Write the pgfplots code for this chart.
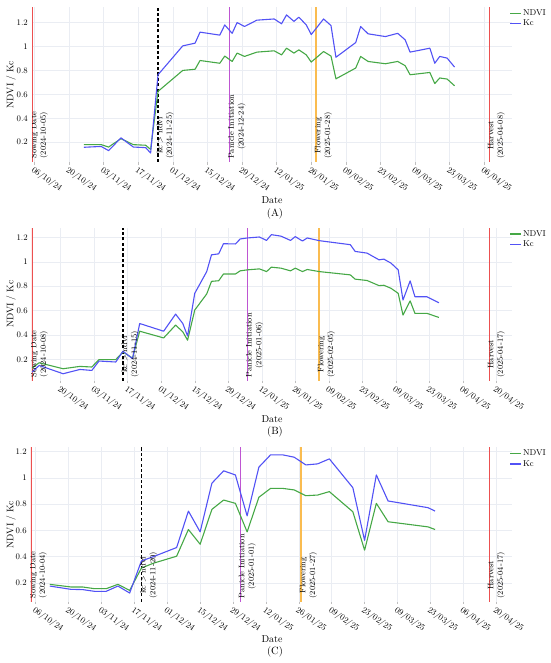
\documentclass[border=0pt]{standalone}
\usepackage{pgfplots}
\pgfplotsset{compat=1.18}
\usepackage{pgfplotstable}
\definecolor{ndvic}{RGB}{70,168,70}
\definecolor{kcc}{RGB}{82,82,245}
\definecolor{sowc}{RGB}{236,80,80}
\definecolor{panc}{RGB}{190,85,210}
\definecolor{flowc}{RGB}{250,188,80}
\definecolor{gridc}{RGB}{234,237,243}

\pgfplotstableread{
day ndvi kc
20 0.180 0.158
27 0.180 0.165
30 0.160 0.130
35 0.230 0.237
40 0.180 0.160
45 0.175 0.155
47 0.140 0.110
50 0.625 0.764
60 0.800 1.005
65 0.810 1.028
67 0.883 1.120
75 0.860 1.095
77 0.920 1.180
80 0.875 1.110
82 0.945 1.200
85 0.917 1.167
90 0.953 1.220
97 0.964 1.230
100 0.930 1.190
102 0.986 1.264
105 0.945 1.210
107 0.972 1.245
110 0.930 1.180
112 0.870 1.100
117 0.958 1.230
120 0.920 1.175
122 0.730 0.910
130 0.820 1.033
132 0.917 1.167
135 0.875 1.106
142 0.856 1.083
147 0.875 1.110
150 0.840 1.056
152 0.764 0.953
160 0.783 0.986
162 0.690 0.860
164 0.737 0.917
167 0.728 0.903
170 0.672 0.828
}\dataA

\pgfplotstableread{
day ndvi kc
2 0.130 0.097
5 0.174 0.152
15 0.125 0.084
22 0.144 0.119
27 0.139 0.111
30 0.200 0.188
37 0.200 0.180
40 0.262 0.268
44 0.212 0.207
47 0.432 0.495
57 0.377 0.432
62 0.482 0.572
65 0.427 0.495
67 0.358 0.393
70 0.605 0.742
75 0.737 0.920
77 0.840 1.057
80 0.845 1.065
82 0.900 1.148
87 0.900 1.146
89 0.926 1.187
92 0.934 1.195
97 0.942 1.203
100 0.920 1.175
102 0.956 1.222
106 0.948 1.210
110 0.926 1.175
112 0.948 1.206
115 0.920 1.170
117 0.937 1.195
122 0.920 1.173
135 0.893 1.140
137 0.858 1.085
142 0.847 1.071
147 0.805 1.016
149 0.808 1.022
152 0.783 0.989
155 0.742 0.934
157 0.564 0.687
160 0.680 0.844
162 0.578 0.714
167 0.578 0.714
172 0.545 0.665
}\dataB

\pgfplotstableread{
day ndvi kc
6 0.190 0.177
15 0.170 0.152
20 0.170 0.150
25 0.157 0.137
30 0.157 0.137
35 0.190 0.177
40 0.144 0.124
45 0.314 0.368
50 0.350 0.400
60 0.404 0.470
65 0.607 0.747
70 0.495 0.589
75 0.760 0.959
80 0.831 1.053
85 0.806 1.022
90 0.589 0.711
95 0.852 1.081
100 0.920 1.175
105 0.920 1.175
110 0.908 1.157
115 0.864 1.098
120 0.869 1.106
125 0.895 1.144
135 0.742 0.925
140 0.450 0.524
145 0.806 1.022
150 0.666 0.824
167 0.627 0.773
170 0.607 0.747
}\dataC

\newcommand{\tfont}{\fontsize{8.5}{10}\selectfont}
\newcommand{\efont}{\fontsize{8}{9.6}\selectfont}

\tikzset{
  evlab/.style={rotate=90, anchor=north west, align=center, font=\efont, inner sep=0.5pt, xshift=2.6pt, yshift=2pt},
  sowline/.style={sowc, line width=1.2pt},
  kcdash/.style={black, line width=1.1pt, dash pattern=on 3.2pt off 2.2pt},
  panline/.style={panc, line width=1.1pt},
  flowline/.style={flowc, line width=1.8pt},
}
\pgfplotsset{
  panel/.style={
    scale only axis,
    axis line style={draw=none},
    grid=major,
    grid style={gridc, line width=0.5pt},
    xtick pos=left, ytick pos=left,
    tick align=outside,
    major tick length=2.5pt,
    xtick style={black!25, line width=0.5pt},
    ytick style={draw=none},
    ytick={0.2,0.4,0.6,0.8,1,1.2},
    yticklabels={0.2,0.4,0.6,0.8,1,1.2},
    xticklabel style={rotate=-35, anchor=north west, font=\tfont, inner sep=1pt},
    yticklabel style={font=\tfont, inner sep=1.5pt},
    legend style={at={(0.992,1)}, anchor=north west, draw=none, fill=none,
      font=\tfont, inner sep=1pt, row sep=0pt, nodes={inner sep=1.5pt}},
    legend cell align=left,
    legend image code/.code={\draw[#1, line width=1.3pt] (0pt,0pt) -- (11pt,0pt);},
  },
  ndviline/.style={ndvic, line width=1.1pt, line join=round},
  kcline/.style={kcc, line width=1.1pt, line join=round},
}

\begin{document}
\begin{tikzpicture}
\path[use as bounding box] (0,0) rectangle (550pt,-663pt);

% ---------------- Panel A ----------------
\begin{axis}[panel,
  at={(32pt,-162pt)}, anchor=south west,
  width=480pt, height=155pt,
  xmin=-1, xmax=193.25, ymin=0.035, ymax=1.33,
  xtick={0,14,28,42,56,70,84,98,112,126,140,154,168,182},
  xticklabels={06/10/24,20/10/24,03/11/24,17/11/24,01/12/24,15/12/24,29/12/24,12/01/25,26/01/25,09/02/25,23/02/25,09/03/25,23/03/25,06/04/25},
]
\addplot[sowline, forget plot] coordinates {(-1,0.035) (-1,1.33)};
\addplot[kcdash, forget plot] coordinates {(50,0.035) (50,1.33)};
\addplot[panline, forget plot] coordinates {(79,0.035) (79,1.33)};
\addplot[flowline, forget plot] coordinates {(114,0.035) (114,1.33)};
\addplot[sowline, forget plot] coordinates {(184,0.035) (184,1.33)};
\addplot[ndviline] table[x=day, y=ndvi] {\dataA};
\addlegendentry{NDVI}
\addplot[kcline] table[x=day, y=kc] {\dataA};
\addlegendentry{Kc}
\node[evlab] at (axis cs:-1,0.035) {Sowing Date\\(2024-10-05)};
\node[evlab] at (axis cs:50,0.035) {kc $>$ ndvi\\(2024-11-25)};
\node[evlab] at (axis cs:79,0.035) {Panicle Initiation\\(2024-12-24)};
\node[evlab] at (axis cs:114,0.035) {Flowering\\(2025-01-28)};
\node[evlab] at (axis cs:184,0.035) {Harvest\\(2025-04-08)};
\end{axis}

% ---------------- Panel B ----------------
\begin{axis}[panel,
  at={(32pt,-380.7pt)}, anchor=south west,
  width=480pt, height=153pt,
  xmin=2, xmax=202.55, ymin=0.027, ymax=1.279,
  xtick={14,28,42,56,70,84,98,112,126,140,154,168,182,196},
  xticklabels={20/10/24,03/11/24,17/11/24,01/12/24,15/12/24,29/12/24,12/01/25,26/01/25,09/02/25,23/02/25,09/03/25,23/03/25,06/04/25,20/04/25},
]
\addplot[sowline, forget plot] coordinates {(2,0.027) (2,1.279)};
\addplot[kcdash, forget plot] coordinates {(40,0.027) (40,1.279)};
\addplot[panline, forget plot] coordinates {(92,0.027) (92,1.279)};
\addplot[flowline, forget plot] coordinates {(122,0.027) (122,1.279)};
\addplot[sowline, forget plot] coordinates {(193,0.027) (193,1.279)};
\addplot[ndviline] table[x=day, y=ndvi] {\dataB};
\addlegendentry{NDVI}
\addplot[kcline] table[x=day, y=kc] {\dataB};
\addlegendentry{Kc}
\node[evlab] at (axis cs:2,0.027) {Sowing Date\\(2024-10-08)};
\node[evlab] at (axis cs:40,0.027) {kc $>$ ndvi\\(2024-11-15)};
\node[evlab] at (axis cs:92,0.027) {Panicle Initiation\\(2025-01-06)};
\node[evlab] at (axis cs:122,0.027) {Flowering\\(2025-02-05)};
\node[evlab] at (axis cs:193,0.027) {Harvest\\(2025-04-17)};
\end{axis}

% ---------------- Panel C ----------------
\begin{axis}[panel,
  at={(31pt,-601.7pt)}, anchor=south west,
  width=481pt, height=154.4pt,
  xmin=-2, xmax=202.75, ymin=0.058, ymax=1.232,
  xtick={0,14,28,42,56,70,84,98,112,126,140,154,168,182,196},
  xticklabels={06/10/24,20/10/24,03/11/24,17/11/24,01/12/24,15/12/24,29/12/24,12/01/25,26/01/25,09/02/25,23/02/25,09/03/25,23/03/25,06/04/25,20/04/25},
]
\addplot[sowline, forget plot] coordinates {(-2,0.058) (-2,1.232)};
\addplot[kcdash, forget plot] coordinates {(45,0.058) (45,1.232)};
\addplot[panline, forget plot] coordinates {(87,0.058) (87,1.232)};
\addplot[flowline, forget plot] coordinates {(113,0.058) (113,1.232)};
\addplot[sowline, forget plot] coordinates {(193,0.058) (193,1.232)};
\addplot[ndviline] table[x=day, y=ndvi] {\dataC};
\addlegendentry{NDVI}
\addplot[kcline] table[x=day, y=kc] {\dataC};
\addlegendentry{Kc}
\node[evlab] at (axis cs:-2,0.058) {Sowing Date\\(2024-10-04)};
\node[evlab] at (axis cs:45,0.058) {kc $>$ ndvi\\(2024-11-20)};
\node[evlab] at (axis cs:87,0.058) {Panicle Initiation\\(2025-01-01)};
\node[evlab] at (axis cs:113,0.058) {Flowering\\(2025-01-27)};
\node[evlab] at (axis cs:193,0.058) {Harvest\\(2025-04-17)};
\end{axis}

% ---------------- labels ----------------
\foreach \yc/\yd/\yl/\lab in {84.5/200/213.5/(A), 304.2/419/432/(B), 524.5/639/652/(C)}{
  \node[rotate=90, font=\fontsize{9.5}{11}\selectfont] at (11pt,-\yc pt) {NDVI / Kc};
  \node[font=\fontsize{10}{12}\selectfont] at (272pt,-\yd pt) {Date};
  \node[font=\fontsize{10.5}{12}\selectfont] at (275pt,-\yl pt) {\lab};
}
\end{tikzpicture}
\end{document}
